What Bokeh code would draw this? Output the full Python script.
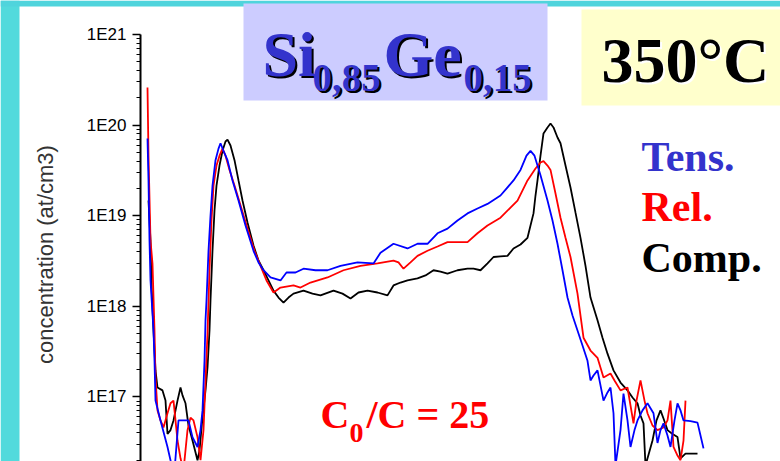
import math
from bokeh.plotting import figure
from bokeh.models import Range1d, FixedTicker, CustomJSTickFormatter
from bokeh.core.properties import value
from bokeh.embed import file_html
from bokeh.resources import INLINE

# ---------------- data (depth in nm, concentration in at/cm3) ----------------
depth_tens = [3.5, 4.0, 4.5, 5.0, 6.5, 7.0, 7.5, 10, 13.5, 15, 17, 19, 24, 26, 28.5, 30, 31, 32, 32.5, 33,
              34, 35, 36, 37.5, 39, 40, 41.5, 43.5, 46, 49, 52.5, 56.5, 59, 61.5, 65, 70, 73, 77.5, 81.5,
              87.5, 93.5, 100, 108.5, 116.5, 120, 126.5, 133.5, 138.5, 143.5, 148.5, 153.5, 158.5, 163.5,
              168.5, 173.5, 180, 186.5, 190, 193, 195, 197, 200, 203.5, 206, 208.5, 211, 213.5, 216, 218.5,
              221, 223.5, 225, 226.5, 228.5, 230, 231.5, 233.5, 235, 236.5, 237.5, 240, 241.5, 243.5, 245,
              247, 248.5, 251, 253.5, 256.5, 258.5, 260, 261.5, 263.5, 265, 267, 268.5, 270, 271.5, 275,
              278.5, 280, 281.5]
conc_tens = [7.1e19, 2.45e19, 5.3e18, 1.93e18, 5.4e17, 2.5e17, 9.1e16, 5.5e16, 2.8e16, 2.0e16, 1.54e16,
             5.5e16, 5.5e16, 3.6e16, 2.8e16, 4.3e16, 7.1e16, 2.5e17, 7.0e17, 1.16e18,
             4.1e18, 1.0e19, 2.15e19, 4.1e19, 5.5e19, 6.3e19, 5.2e19, 4.1e19, 2.45e19, 1.47e19, 7.8e18,
             4.1e18, 3.05e18, 2.5e18, 2.08e18, 1.93e18, 2.36e18, 2.36e18, 2.6e18,
             2.5e18, 2.5e18, 2.8e18, 3.05e18, 2.97e18, 3.9e18, 4.9e18, 4.35e18, 4.9e18, 4.9e18, 6.4e18,
             7.2e18, 8.85e18, 1.06e19, 1.2e19, 1.35e19, 1.67e19, 2.45e19, 3.2e19, 4.6e19, 5.2e19, 4.6e19,
             2.8e19, 1.47e19, 8.85e18, 4.9e18, 2.5e18, 1.25e18, 7.9e17, 5.4e17,
             3.7e17, 2.5e17, 1.52e17, 1.72e17, 1.96e17, 1.34e17, 9.1e16, 1.12e17, 1.27e17, 6.6e16, 1.75e16,
             4.3e16, 1.09e17, 5.5e16, 2.8e16, 4.3e16, 5.5e16, 7.1e16, 8.5e16, 6.6e16, 3.1e16, 4.3e16,
             5.1e16, 3.75e16, 2.8e16, 5.5e16, 8.5e16, 7.1e16, 5.5e16, 5.4e16, 5.2e16, 3.75e16, 2.7e16]

depth_rel = [3.5, 4.0, 5.0, 6.0, 6.5, 7.0, 7.5, 8.5, 10, 11.5, 13.5, 15, 16.5, 17.5, 18.5, 20, 21.5, 23.5,
             25, 26.5, 28.5, 30, 31.5, 32.5, 33.5, 34.5, 35.5, 36.5, 38, 39.5, 41, 42.5, 44.5, 47, 50,
             53.5, 57, 60, 63, 66.5, 70, 76.5, 80, 85, 93.5, 101.5, 110, 118.5, 126.5, 129, 131.5, 135,
             138.5, 143.5, 148.5, 153.5, 163.5, 168.5, 173.5, 180, 185, 188.5, 193.5, 197.5, 200, 201.5,
             203.5, 205, 207.5, 210, 212.5, 215, 218.5, 221.5, 225, 228.5, 231.5, 235, 237, 240, 243.5,
             246.5, 248, 250, 252, 253.5, 256, 258.5, 261.5, 263.5, 265, 266.5, 268.5, 270, 271.5, 272.5]
conc_rel = [2.6e20, 4.6e19, 5.3e18, 2.97e18, 1.25e18, 5.4e17, 1.64e17, 7.1e16, 5.5e16, 4.6e16, 6.6e16,
            8.5e16, 9.1e16, 5.5e16, 3.3e16, 2.1e16, 1.54e16, 4.3e16,
            5.9e16, 5.5e16, 3.6e16, 2.0e16, 4.3e16, 1.52e17, 5.0e17, 2.5e18, 8.85e18, 2.15e19, 3.58e19,
            4.6e19, 5.5e19, 4.6e19, 3.2e19, 2.15e19, 1.3e19,
            7.2e18, 4.1e18, 2.8e18, 1.93e18, 1.42e18, 1.61e18, 1.7e18, 1.61e18, 1.83e18, 2.08e18, 2.5e18,
            2.8e18, 2.97e18, 3.2e18, 3.05e18, 2.6e18, 3.05e18,
            3.6e18, 4.1e18, 4.57e18, 5.1e18, 5.1e18, 6.4e18, 7.8e18, 9.5e18, 1.23e19, 1.47e19, 2.45e19,
            3.32e19, 3.87e19, 4.0e19,
            3.58e19, 3.2e19, 1.76e19, 9.5e18, 5.7e18, 3.5e18, 1.38e18, 4.5e17, 3.25e17, 2.7e17, 1.64e17,
            1.81e17, 1.52e17, 1.18e17, 1.27e17,
            5.1e16, 9.1e16, 1.52e17, 9.1e16, 6.6e16, 4.83e16, 4.3e16, 4.6e16, 5.5e16, 9.1e16, 2.8e16,
            2.25e16, 2.0e16, 3.3e16, 9.1e16]

depth_comp = [4.0, 5.0, 5.5, 6.5, 7.5, 8.5, 11, 12.5, 13.5, 15, 16.5, 18.5, 20, 21, 22.5, 24, 26, 28.5,
              29.5, 31, 32.5, 33.5, 34.5, 35, 36, 37, 38, 39.5, 41, 42.5, 43.5, 45, 47, 49, 51, 53.5,
              56.5, 59, 61.5, 64, 66.5, 69, 71.5, 74, 76.5, 81.5, 86, 90, 96.5, 101, 105, 109, 113.5,
              118.5, 123.5, 126.5, 130, 133.5, 138.5, 142.5, 146.5, 150, 153.5, 158.5, 163.5, 166.5, 170,
              173.5, 176.5, 180, 183.5, 186.5, 190, 193.5, 195, 196.5, 197.5, 198.5, 200, 201.5, 203.5,
              205, 206.5, 208.5, 210, 212.5, 215, 217.5, 220, 222.5, 225, 228.5, 231, 233.5, 236.5, 240,
              243.5, 246, 248.5, 250, 251.5, 252.5, 256, 258, 260, 261.5, 263.5, 266, 268.5, 270, 272.5,
              275, 278.5]
conc_comp = [1.47e19, 5.3e18, 1.7e18, 5.4e17, 1.96e17, 1.27e17, 1.18e17, 9.1e16, 3.9e16, 4.3e16, 5.5e16,
             9.1e16, 1.27e17, 1.04e17, 8.5e16, 4.83e16, 3.3e16, 2.0e16,
             2.56e16, 5.9e16, 1.18e17, 2.1e17, 5.4e17, 1.16e18, 4.1e18, 1.14e19, 2.15e19, 3.58e19, 5.2e19,
             6.59e19, 6.9e19, 5.96e19, 4.1e19, 2.45e19, 1.47e19, 8.41e18,
             4.69e18, 3.2e18, 2.5e18, 1.93e18, 1.49e18, 1.25e18, 1.10e18, 1.25e18, 1.38e18, 1.49e18,
             1.38e18, 1.32e18, 1.49e18, 1.38e18, 1.22e18, 1.42e18, 1.49e18,
             1.42e18, 1.32e18, 1.70e18, 1.83e18, 1.93e18, 2.03e18, 2.19e18, 2.5e18, 2.42e18, 2.3e18,
             2.5e18, 2.6e18, 2.6e18, 2.5e18,
             2.97e18, 3.5e18, 3.55e18, 3.6e18, 4.35e18, 4.81e18, 5.7e18, 7.8e18, 1.06e19, 1.67e19,
             2.45e19, 4.6e19, 8.1e19, 9.42e19,
             1.04e20, 9.42e19, 7.29e19, 6.3e19, 3.58e19, 2.05e19, 1.08e19, 5.7e18, 2.8e18, 1.25e18,
             7.0e17, 4.5e17, 3.0e17, 1.96e17, 1.44e17,
             1.18e17, 9.85e16, 8.5e16, 6.23e16, 5.1e16, 1.75e16, 3.3e16, 5.5e16, 7.1e16, 5.78e16, 4.3e16,
             3.9e16, 3.6e16, 2.1e16, 2.37e16,
             2.37e16, 2.37e16]

decade_ticks = [1e16, 1e17, 1e18, 1e19, 1e20, 1e21]
minor_mult = [2, 3, 4, 5, 6, 7, 8, 9]
series_labels = ["Tens.", "Rel.", "Comp."]
y_label = "concentration (at/cm3)"

# ---------------- geometry helpers (pixel layout of the slide) ----------------
W, H = 780, 461
AX_PX, PX_PER_NM = 140, 2.0
Y21_PX, PX_PER_DEC = 34, 90.6
BASE_FIX = 0.34   # empirical baseline correction (fraction of font size)


def dx(px):
    return (px - AX_PX) / PX_PER_NM


def dy(py):
    return 10 ** (21 - (py - Y21_PX) / PX_PER_DEC)


p = figure(width=W, height=H, x_range=Range1d(dx(0), dx(W)), y_range=Range1d(dy(H), dy(0)),
           y_axis_type="log", x_axis_location=None, y_axis_location="left",
           output_backend="svg", toolbar_location=None, min_border=0)
p.min_border_left = p.min_border_right = p.min_border_top = p.min_border_bottom = 0
p.background_fill_color = "white"
p.border_fill_color = "white"
p.outline_line_color = None
p.grid.visible = False

# slide background strips and title boxes
p.quad(left=[dx(0)], right=[dx(19)], bottom=[dy(H)], top=[dy(0)], fill_color="#52dadc", line_color=None)
p.quad(left=[dx(0)], right=[dx(W)], bottom=[dy(6)], top=[dy(0)], fill_color="#4fd4dc", line_color=None)
p.quad(left=[dx(243)], right=[dx(547)], bottom=[dy(100)], top=[dy(3)], fill_color="#ccccff", line_color=None)
p.quad(left=[dx(581)], right=[dx(W)], bottom=[dy(105)], top=[dy(9)], fill_color="#ffffcc", line_color=None)

# profiles
p.line(depth_comp, conc_comp, line_color="black", line_width=1.8)
p.line(depth_rel, conc_rel, line_color="#ff0000", line_width=1.8)
p.line(depth_tens, conc_tens, line_color="#0000ff", line_width=1.8)

# axis
ax = p.yaxis[0]
ax.fixed_location = 0
ax.bounds = (1e16, 1e21)
ax.ticker = FixedTicker(ticks=decade_ticks,
                        minor_ticks=[m * d for d in decade_ticks[:-1] for m in minor_mult])
ax.formatter = CustomJSTickFormatter(code="return '1E' + Math.round(Math.log10(tick));")
ax.axis_line_color = "black"
ax.axis_line_width = 2
ax.major_tick_in = 0
ax.major_tick_out = 8
ax.minor_tick_in = 0
ax.minor_tick_out = 4
ax.major_tick_line_width = 1.5
ax.minor_tick_line_width = 1.2
ax.major_tick_line_color = "black"
ax.minor_tick_line_color = "black"
ax.major_label_text_font = "Liberation Sans"
ax.major_label_text_font_size = "17px"
ax.major_label_text_color = "black"
ax.major_label_standoff = 6

# y-axis title (drawn as rotated text so it sits where the slide has it)
p.text(x=[dx(45)], y=[dy(254)], text=[y_label], angle=math.pi / 2,
       text_font=value("Liberation Sans"), text_font_size="22px", text_color="#333333",
       text_align="center", text_baseline="middle")

SERIF = value("Liberation Serif")


def txt(px, py, s, size, color, shadow=None, off=2):
    py_eff = py - BASE_FIX * size
    fs = f"{size}px"
    if shadow is not None:
        p.text(x=[dx(px)], y=[dy(py_eff)], text=[s], x_offset=off, y_offset=off, text_font=SERIF,
               text_font_style="bold", text_font_size=fs, text_color=shadow,
               text_align="left", text_baseline="alphabetic")
    p.text(x=[dx(px)], y=[dy(py_eff)], text=[s], text_font=SERIF, text_font_style="bold",
           text_font_size=fs, text_color=color, text_align="left", text_baseline="alphabetic")


BLUE_T = "#3333cc"
txt(262, 76, "Si", 64, BLUE_T, shadow="black")
txt(312, 91, "0,85", 39, BLUE_T, shadow="black")
txt(383, 76, "Ge", 64, BLUE_T, shadow="black")
txt(463, 91, "0,15", 39, BLUE_T, shadow="black")
txt(601, 82, "350°C", 64, "black", shadow="white")

txt(641, 171, series_labels[0], 42, BLUE_T)
txt(641, 221, series_labels[1], 42, "#ff0000")
txt(641, 272, series_labels[2], 42, "black")

txt(320, 428, "C", 40, "#ff0000")
txt(349, 442, "0", 28, "#ff0000")
txt(366, 428, "/C = 25", 40, "#ff0000")

open("out.html", "w").write(file_html(p, INLINE))
